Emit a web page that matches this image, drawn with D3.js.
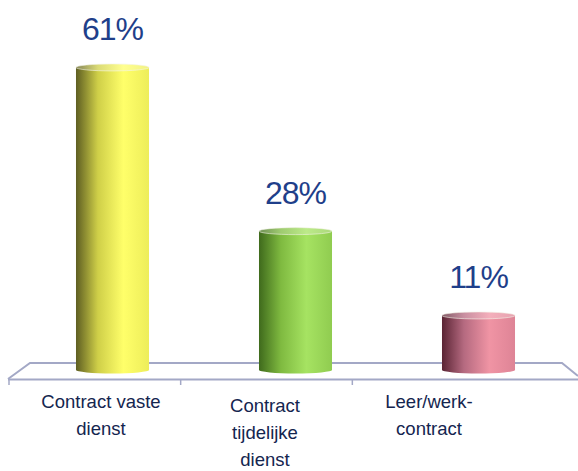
<!DOCTYPE html>
<html>
<head>
<meta charset="utf-8">
<script src="https://cdn.jsdelivr.net/npm/d3@7"></script>
<style>
  html, body { margin: 0; padding: 0; background: #fff; }
  svg { display: block; }
</style>
</head>
<body>
<svg id="chart" width="578" height="471"></svg>
<script>
// Share of contract types
const categories = ["Contract vaste dienst", "Contract tijdelijke dienst", "Leer/werk-contract"];
const categoryLines = [["Contract vaste", "dienst"], ["Contract", "tijdelijke", "dienst"], ["Leer/werk-", "contract"]];
const values = [61, 28, 11];
const valueLabels = ["61%", "28%", "11%"];

// cylinder shading per bar: [left shadow, mid, highlight, right edge]
const palettes = [
  ["#5e5e22", "#cfcf48", "#ffff6a", "#eded5a"],
  ["#3f6a1c", "#7fba40", "#a6e362", "#90cc50"],
  ["#5a2434", "#b56a80", "#f094a4", "#de8496"]
];

const svg = d3.select("#chart");
const defs = svg.append("defs");

const x = d3.scaleBand().domain(categories).range([21, 570]).paddingInner(0.601).paddingOuter(0.3005);
const y = d3.scaleLinear().domain([0, 100]).range([370, -126]);
const labelX = d3.scalePoint().domain(categories).range([101, 429]);

const ry = 3.5;

// 3D floor
const floorColor = "#a3a8c6";
const floor = svg.append("g").attr("fill", "none").attr("stroke", floorColor).attr("stroke-width", 2);
floor.append("path").attr("d", d3.line()([[8, 379], [30, 363], [562, 363], [578, 376]]));
floor.append("line").attr("x1", 8).attr("x2", 578).attr("y1", 379.5).attr("y2", 379.5);
const tickScale = d3.scaleLinear().domain([0, 3]).range([9, 524]);
floor.selectAll("line.tick").data([0, 1, 2]).join("line").attr("class", "tick")
  .attr("x1", d => tickScale(d)).attr("x2", d => tickScale(d))
  .attr("y1", 379).attr("y2", 385).attr("stroke-width", 1.5);

// gradients
palettes.forEach((p, i) => {
  const g = defs.append("linearGradient").attr("id", "cyl" + i).attr("x1", 0).attr("x2", 1).attr("y1", 0).attr("y2", 0);
  g.append("stop").attr("offset", "0%").attr("stop-color", p[0]);
  g.append("stop").attr("offset", "30%").attr("stop-color", p[1]);
  g.append("stop").attr("offset", "65%").attr("stop-color", p[2]);
  g.append("stop").attr("offset", "100%").attr("stop-color", p[3]);
  const t = defs.append("linearGradient").attr("id", "top" + i).attr("x1", 0).attr("x2", 1).attr("y1", 0).attr("y2", 0);
  t.append("stop").attr("offset", "0%").attr("stop-color", d3.interpolateRgb(p[0], "#fff")(0.25));
  t.append("stop").attr("offset", "30%").attr("stop-color", d3.interpolateRgb(p[1], "#fff")(0.25));
  t.append("stop").attr("offset", "65%").attr("stop-color", d3.interpolateRgb(p[2], "#fff")(0.25));
  t.append("stop").attr("offset", "100%").attr("stop-color", d3.interpolateRgb(p[3], "#fff")(0.25));
});

// cylinders
const bars = svg.append("g").selectAll("g").data(categories).join("g");
bars.append("path")
  .attr("fill", (d, i) => `url(#cyl${i})`)
  .attr("d", (d, i) => {
    const x0 = x(d), w = x.bandwidth(), yt = y(values[i]), yb = y(0);
    return `M${x0},${yt} L${x0},${yb} A${w / 2},${ry} 0 0 0 ${x0 + w},${yb} L${x0 + w},${yt} Z`;
  });
bars.append("ellipse")
  .attr("cx", d => x(d) + x.bandwidth() / 2)
  .attr("cy", (d, i) => y(values[i]))
  .attr("rx", x.bandwidth() / 2)
  .attr("ry", ry)
  .attr("fill", (d, i) => `url(#top${i})`)
  .attr("stroke", "#f4f4e8").attr("stroke-width", 0.6);

// value labels
svg.append("g").selectAll("text").data(categories).join("text")
  .attr("x", d => x(d) + x.bandwidth() / 2)
  .attr("y", (d, i) => y(values[i]) - 27)
  .attr("text-anchor", "middle")
  .attr("font-family", "Liberation Sans, Arial, sans-serif")
  .attr("font-size", 32)
  .attr("letter-spacing", -1)
  .attr("fill", "#1f3f8a")
  .text((d, i) => valueLabels[i]);

// category labels
const cat = svg.append("g").selectAll("text").data(categories).join("text")
  .attr("text-anchor", "middle")
  .attr("font-family", "Liberation Sans, Arial, sans-serif")
  .attr("font-size", 18.5)
  .attr("fill", "#14254f")
  .attr("y", (d, i) => i === 1 ? 412 : 408);
cat.selectAll("tspan").data((d, i) => categoryLines[i].map(l => ({ l, d }))).join("tspan")
  .attr("x", o => labelX(o.d))
  .attr("dy", (o, j) => j === 0 ? 0 : 27)
  .text(o => o.l);
</script>
</body>
</html>
